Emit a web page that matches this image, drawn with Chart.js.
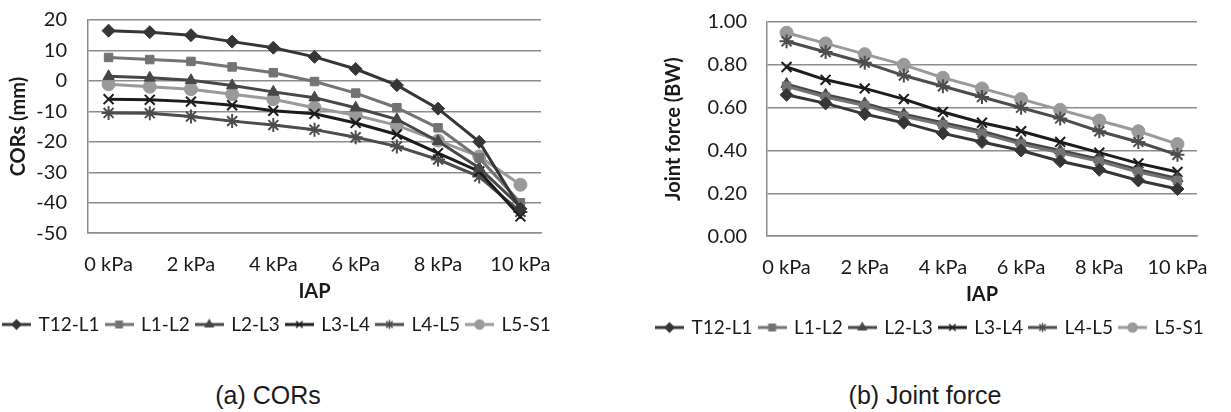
<!DOCTYPE html>
<html>
<head>
<meta charset="utf-8">
<script src="https://cdn.jsdelivr.net/npm/chart.js@4.4.1/dist/chart.umd.min.js"></script>
<style>
  html, body { margin: 0; padding: 0; background: #fff; }
  body { width: 1231px; height: 412px; position: relative; overflow: hidden; }
  .box { position: absolute; top: 0; }
  .cap { position: absolute; font-family: "Liberation Sans", Arial, sans-serif; font-size: 25px; line-height: 1; color: #1a1a1a; white-space: nowrap; transform: translateX(-50%); }
</style>
</head>
<body>
<div class="box" id="b1" style="left:-3px;width:600px;height:344px;"><canvas id="c1"></canvas></div>
<div class="box" id="b2" style="left:650px;width:581px;height:347px;"><canvas id="c2"></canvas></div>
<div class="cap" style="left:268px;top:383px;">(a) CORs</div>
<div class="cap" style="left:925px;top:383px;">(b) Joint force</div>
<script>
const iapLabels = ['0 kPa','1 kPa','2 kPa','3 kPa','4 kPa','5 kPa','6 kPa','7 kPa','8 kPa','9 kPa','10 kPa'];
const seriesNames = ['T12-L1','L1-L2','L2-L3','L3-L4','L4-L5','L5-S1'];

const corT12L1 = [16.5, 16.0, 15.0, 12.9, 10.9, 7.9, 3.9, -1.4, -9.1, -20.0, -42.0];
const corL1L2  = [7.7, 7.0, 6.4, 4.6, 2.7, -0.2, -4.0, -8.8, -15.4, -25.3, -40.0];
const corL2L3  = [1.5, 1.0, 0.2, -1.5, -3.6, -5.5, -8.8, -12.6, -19.8, -28.6, -41.3];
const corL3L4  = [-6.0, -6.2, -6.8, -8.0, -9.8, -10.8, -13.8, -17.6, -23.7, -29.7, -44.5];
const corL4L5  = [-10.5, -10.6, -11.7, -13.2, -14.5, -16.0, -18.5, -21.5, -25.8, -31.4, -43.0];
const corL5S1  = [-1.1, -1.9, -2.7, -4.4, -6.0, -8.8, -11.3, -14.6, -19.6, -24.8, -34.1];

const jfT12L1 = [0.66, 0.62, 0.57, 0.53, 0.48, 0.44, 0.40, 0.35, 0.31, 0.26, 0.22];
const jfL1L2  = [0.70, 0.65, 0.61, 0.56, 0.52, 0.48, 0.43, 0.39, 0.35, 0.30, 0.26];
const jfL2L3  = [0.71, 0.66, 0.62, 0.57, 0.53, 0.49, 0.44, 0.40, 0.36, 0.31, 0.27];
const jfL3L4  = [0.79, 0.73, 0.69, 0.64, 0.58, 0.53, 0.49, 0.44, 0.39, 0.34, 0.30];
const jfL4L5  = [0.91, 0.86, 0.81, 0.75, 0.70, 0.65, 0.60, 0.55, 0.49, 0.44, 0.38];
const jfL5S1  = [0.95, 0.90, 0.85, 0.80, 0.74, 0.69, 0.64, 0.59, 0.54, 0.49, 0.43];

const styles = [
  {color:'#363636', point:'rectRot', r:6.5},
  {color:'#737373', point:'rect', r:6},
  {color:'#474747', point:'triangle', r:6.5},
  {color:'#1c1c1c', point:'crossRot', r:7},
  {color:'#4d4d4d', point:'star', r:7},
  {color:'#9a9a9a', point:'circle', r:6.5}
];

const FONT = 'Lato, "Open Sans", sans-serif';
const TXT = '#1a1a1a';
const GRID = '#8c8c8c';

function legendIcon(st) {
  const c = document.createElement('canvas');
  c.width = 29; c.height = 14;
  const ctx = c.getContext('2d');
  ctx.strokeStyle = st.color; ctx.lineWidth = 3;
  ctx.beginPath(); ctx.moveTo(0, 7); ctx.lineTo(29, 7); ctx.stroke();
  ctx.fillStyle = st.color; ctx.strokeStyle = st.color; ctx.lineWidth = 1.5;
  Chart.helpers.drawPoint(ctx, {pointStyle: st.point, radius: 4.5, rotation: 0, borderWidth: 1.5}, 14.5, 7);
  return c;
}

function makeDatasets(arrs) {
  return arrs.map((d, i) => ({
    label: seriesNames[i],
    data: d,
    borderColor: styles[i].color,
    backgroundColor: styles[i].color,
    borderWidth: 3,
    pointStyle: styles[i].point,
    pointRadius: styles[i].r,
    pointBorderWidth: (styles[i].point === 'crossRot' || styles[i].point === 'star') ? 2 : 1,
    tension: 0
  }));
}

function makeChart(id, datasets, yOpts, yTitle, yWidth, titlePad, padTop, padRight) {
  return new Chart(document.getElementById(id), {
    type: 'line',
    data: { labels: iapLabels, datasets },
    options: {
      responsive: true,
      maintainAspectRatio: false,
      animation: false,
      layout: { padding: { top: padTop, right: 0, left: 0, bottom: 0 } },
      plugins: {
        tooltip: { enabled: false },
        legend: {
          position: 'bottom',
          align: 'start',
          title: { display: true, text: '', font: { size: 4 }, padding: 0 },
          labels: {
            usePointStyle: true,
            pointStyleWidth: 25,
            boxHeight: 14,
            padding: 7,
            color: TXT,
            font: { family: FONT, size: 19 },
            generateLabels: (chart) => chart.data.datasets.map((ds, i) => ({
              text: ds.label,
              pointStyle: legendIcon(styles[i]),
              fillStyle: ds.borderColor,
              strokeStyle: ds.borderColor,
              lineWidth: 0,
              hidden: false,
              datasetIndex: i,
              fontColor: TXT
            }))
          }
        }
      },
      scales: {
        x: {
          offset: true,
          grid: { display: false, drawTicks: false },
          border: { display: true, color: GRID, width: 1.5 },
          ticks: {
            autoSkip: false, maxRotation: 0, padding: 19, color: TXT,
            font: { family: FONT, size: 20 },
            callback: function(v, i) { return i % 2 === 0 ? this.getLabelForValue(v) : ''; }
          },
          title: { display: true, text: 'IAP', color: TXT, font: { family: FONT, size: 20, weight: 'bold' }, padding: { top: 0, bottom: 0 } },
          afterFit: (s) => { s.height = 70; s.paddingLeft = 0; s.paddingRight = padRight; }
        },
        y: Object.assign({
          grid: { color: GRID, lineWidth: 1.5, drawTicks: false },
          border: { display: true, color: GRID, width: 1.5 },
          title: { display: true, text: yTitle, color: TXT, font: { family: FONT, size: 20, weight: 'bold' }, padding: { top: titlePad, bottom: 0 } },
          afterFit: (s) => { s.width = yWidth; s.paddingTop = 0; s.paddingBottom = 0; }
        }, yOpts)
      }
    }
  });
}

makeChart('c1',
  makeDatasets([corT12L1, corL1L2, corL2L3, corL3L4, corL4L5, corL5S1]),
  { min: -50, max: 20, ticks: { stepSize: 10, autoSkip: false, padding: 21, color: TXT, font: { family: FONT, size: 20 } } },
  'CORs (mm)', 91, 10, 20, 56);

makeChart('c2',
  makeDatasets([jfT12L1, jfL1L2, jfL2L3, jfL3L4, jfL4L5, jfL5S1]),
  { min: 0, max: 1, ticks: { stepSize: 0.2, autoSkip: false, padding: 20, color: TXT, font: { family: FONT, size: 20 }, callback: (v) => Number(v).toFixed(2) } },
  'Joint force (BW)', 117, 12, 22, 34);
</script>
</body>
</html>
